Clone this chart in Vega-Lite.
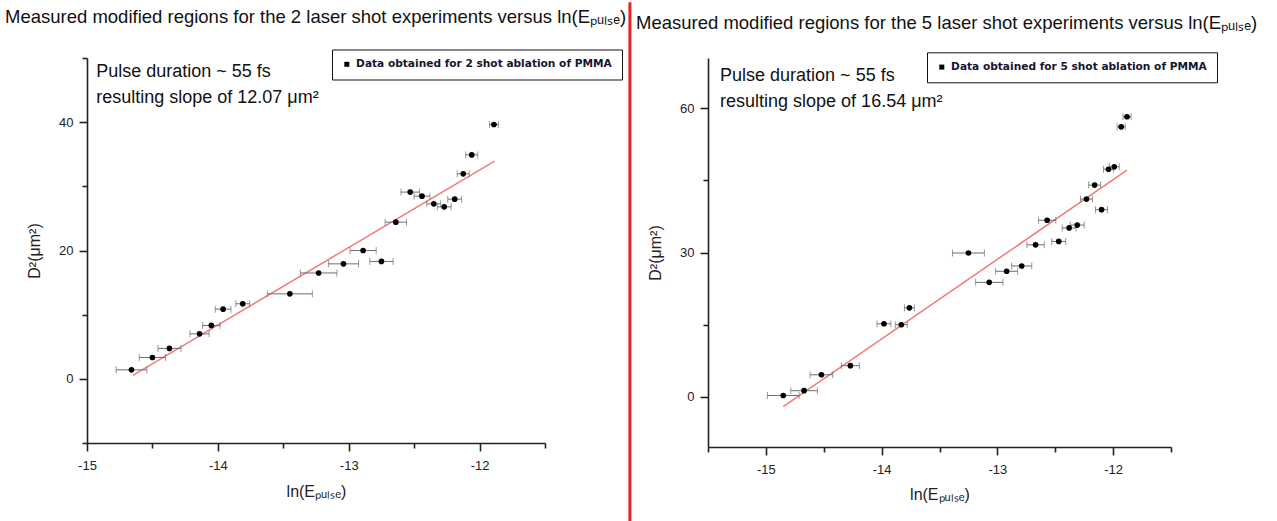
{
  "$schema": "https://vega.github.io/schema/vega-lite/v6.json",
  "background": "white",
  "padding": {"left": 5, "top": 0, "right": 0, "bottom": 0},
  "spacing": 4,
  "bounds": "full",
  "resolve": {"scale": {"color": "independent"}, "legend": {"color": "independent"}},
  "config": {
    "font": "Liberation Sans",
    "view": {"stroke": null},
    "title": {"font": "Liberation Sans", "fontSize": 18.5, "fontWeight": "normal", "color": "#111", "anchor": "start", "frame": "group", "lineHeight": 4},
    "axis": {
      "grid": false,
      "domainColor": "#222", "domainWidth": 1.6,
      "tickColor": "#222", "tickWidth": 1.6,
      "labelFont": "Liberation Sans", "labelFontSize": 13, "labelColor": "#222",
      "labelPadding": 8, "labelFlush": false, "labelOverlap": false,
      "titleFont": "Liberation Sans", "titleFontSize": 16, "titleFontWeight": "normal", "titleColor": "#222"
    },
    "legend": {
      "orient": "none", "title": null,
      "strokeColor": "#111", "fillColor": "white", "padding": 9.5,
      "symbolType": "square", "symbolSize": 25, "symbolStrokeWidth": 0,
      "labelFont": "DejaVu Sans", "labelFontWeight": "bold", "labelFontSize": 10.6,
      "labelColor": "#151530", "labelLimit": 400, "labelOffset": 4
    }
  },
  "datasets": {
    "shot2": [
      {"x": -11.89, "y": 39.64, "xerr": 0.034},
      {"x": -12.06, "y": 34.9, "xerr": 0.046},
      {"x": -12.125, "y": 31.95, "xerr": 0.046},
      {"x": -12.53, "y": 29.1, "xerr": 0.071},
      {"x": -12.44, "y": 28.47, "xerr": 0.061},
      {"x": -12.35, "y": 27.27, "xerr": 0.053},
      {"x": -12.27, "y": 26.8, "xerr": 0.053},
      {"x": -12.19, "y": 28.0, "xerr": 0.053},
      {"x": -12.64, "y": 24.42, "xerr": 0.082},
      {"x": -12.89, "y": 20.0, "xerr": 0.1},
      {"x": -12.75, "y": 18.3, "xerr": 0.089},
      {"x": -13.04, "y": 17.92, "xerr": 0.115},
      {"x": -13.23, "y": 16.5, "xerr": 0.14},
      {"x": -13.45, "y": 13.25, "xerr": 0.172},
      {"x": -13.81, "y": 11.69, "xerr": 0.053},
      {"x": -13.96, "y": 10.86, "xerr": 0.06},
      {"x": -14.05, "y": 8.32, "xerr": 0.067},
      {"x": -14.14, "y": 7.01, "xerr": 0.073},
      {"x": -14.37, "y": 4.74, "xerr": 0.088},
      {"x": -14.5, "y": 3.33, "xerr": 0.1},
      {"x": -14.66, "y": 1.4, "xerr": 0.117}
    ],
    "shot5": [
      {"x": -11.88, "y": 58.2, "xerr": 0.035},
      {"x": -11.93, "y": 56.1, "xerr": 0.035},
      {"x": -11.99, "y": 47.8, "xerr": 0.043},
      {"x": -12.04, "y": 47.3, "xerr": 0.043},
      {"x": -12.16, "y": 44.0, "xerr": 0.052},
      {"x": -12.23, "y": 41.1, "xerr": 0.052},
      {"x": -12.1, "y": 38.9, "xerr": 0.052},
      {"x": -12.57, "y": 36.7, "xerr": 0.075},
      {"x": -12.38, "y": 35.1, "xerr": 0.06},
      {"x": -12.31, "y": 35.7, "xerr": 0.06},
      {"x": -12.47, "y": 32.3, "xerr": 0.06},
      {"x": -12.67, "y": 31.6, "xerr": 0.075},
      {"x": -13.25, "y": 29.9, "xerr": 0.138},
      {"x": -12.79, "y": 27.2, "xerr": 0.087},
      {"x": -12.92, "y": 26.1, "xerr": 0.095},
      {"x": -13.07, "y": 23.8, "xerr": 0.118},
      {"x": -13.76, "y": 18.5, "xerr": 0.043},
      {"x": -13.98, "y": 15.2, "xerr": 0.06},
      {"x": -13.83, "y": 15.0, "xerr": 0.052},
      {"x": -14.27, "y": 6.5, "xerr": 0.078},
      {"x": -14.52, "y": 4.6, "xerr": 0.098},
      {"x": -14.67, "y": 1.3, "xerr": 0.115},
      {"x": -14.85, "y": 0.3, "xerr": 0.137}
    ],
    "fit2": [
      {"x": -14.65, "y": 0.55},
      {"x": -11.885, "y": 33.92}
    ],
    "fit5": [
      {"x": -14.85, "y": -2.0},
      {"x": -11.88, "y": 47.1}
    ],
    "divider": [
      {"part": "separator"}
    ]
  },
  "hconcat": [
    {
      "width": 458,
      "height": 385,
      "title": {"text": ["", "Measured modified regions for the 2 laser shot experiments versus ln(Eₚᵤₗₛₑ)"], "dx": -82, "offset": -25.2},
      "layer": [
        {
          "encoding": {
            "x": {
              "field": "x", "type": "quantitative",
              "scale": {"domain": [-15, -11.5], "nice": false, "zero": false},
              "axis": {
                "title": "ln(Eₚᵤₗₛₑ)",
                "values": [-15, -14.5, -14, -13.5, -13, -12.5, -12, -11.5],
                "labelExpr": "datum.value % 1 === 0 ? '' + datum.value : ''",
                "tickSize": {"condition": {"test": "datum.value % 1 === 0", "value": 8}, "value": 5},
                "titlePadding": 11
              }
            },
            "y": {
              "field": "y", "type": "quantitative",
              "scale": {"domain": [-10, 50], "nice": false, "zero": false},
              "axis": {
                "title": "D²(μm²)",
                "values": [-10, 0, 10, 20, 30, 40, 50],
                "labelExpr": "datum.value % 20 === 0 ? '' + datum.value : ''",
                "tickSize": {"condition": {"test": "datum.value % 20 === 0", "value": 8}, "value": 5},
                "labelPadding": 6,
                "titlePadding": 16
              }
            }
          },
          "layer": [
            {
              "data": {"name": "fit2"},
              "mark": {"type": "line", "color": "#f27a7a", "strokeWidth": 1.5}
            },
            {
              "data": {"name": "shot2"},
              "mark": {"type": "errorbar", "color": "#6e6e6e", "thickness": 1, "ticks": {"size": 7, "thickness": 1}},
              "encoding": {"xError": {"field": "xerr"}}
            },
            {
              "data": {"name": "shot2"},
              "mark": {"type": "point", "filled": true, "size": 32, "opacity": 1},
              "encoding": {
                "color": {
                  "datum": "Data obtained for 2 shot ablation of PMMA",
                  "scale": {"range": ["#000000"]},
                  "legend": {"legendX": 245, "legendY": -8.5}
                }
              }
            }
          ]
        },
        {
          "data": {"values": [{"note": "Pulse duration ~ 55 fs\nresulting slope of 12.07 μm²"}]},
          "mark": {"type": "text", "align": "left", "baseline": "alphabetic", "lineBreak": "\n", "lineHeight": 26, "fontSize": 18, "color": "#111", "font": "Liberation Sans"},
          "encoding": {
            "x": {"datum": -14.93, "type": "quantitative"},
            "y": {"datum": 47.1, "type": "quantitative"},
            "text": {"field": "note", "type": "nominal"}
          }
        },
        {
          "data": {"name": "divider"},
          "mark": {"type": "rule", "color": "#e3232b", "strokeWidth": 3},
          "encoding": {
            "x": {"datum": -10.851, "type": "quantitative"},
            "y": {"datum": 58.68, "type": "quantitative"},
            "y2": {"datum": -22.51}
          }
        }
      ]
    },
    {
      "width": 463,
      "height": 389,
      "title": {"text": ["", "Measured modified regions for the 5 laser shot experiments versus ln(Eₚᵤₗₛₑ)"], "dx": -72, "offset": 18.9},
      "layer": [
        {
          "encoding": {
            "x": {
              "field": "x", "type": "quantitative",
              "scale": {"domain": [-15.5, -11.5], "nice": false, "zero": false},
              "axis": {
                "title": "ln(Eₚᵤₗₛₑ)",
                "values": [-15.5, -15, -14.5, -14, -13.5, -13, -12.5, -12, -11.5],
                "labelExpr": "datum.value % 1 === 0 ? '' + datum.value : ''",
                "tickSize": {"condition": {"test": "datum.value % 1 === 0", "value": 8}, "value": 5},
                "titlePadding": 10
              }
            },
            "y": {
              "field": "y", "type": "quantitative",
              "scale": {"domain": [-10.4, 70.4], "nice": false, "zero": false},
              "axis": {
                "title": "D²(μm²)",
                "values": [0, 15, 30, 45, 60],
                "labelExpr": "datum.value % 30 === 0 ? '' + datum.value : ''",
                "tickSize": {"condition": {"test": "datum.value % 30 === 0", "value": 8}, "value": 5},
                "labelPadding": 6,
                "titlePadding": 16
              }
            }
          },
          "layer": [
            {
              "data": {"name": "fit5"},
              "mark": {"type": "line", "color": "#f27a7a", "strokeWidth": 1.5}
            },
            {
              "data": {"name": "shot5"},
              "mark": {"type": "errorbar", "color": "#6e6e6e", "thickness": 1, "ticks": {"size": 7, "thickness": 1}},
              "encoding": {"xError": {"field": "xerr"}}
            },
            {
              "data": {"name": "shot5"},
              "mark": {"type": "point", "filled": true, "size": 32, "opacity": 1},
              "encoding": {
                "color": {
                  "datum": "Data obtained for 5 shot ablation of PMMA",
                  "scale": {"range": ["#000000"]},
                  "legend": {"legendX": 219, "legendY": -5.7}
                }
              }
            }
          ]
        },
        {
          "data": {"values": [{"note": "Pulse duration ~ 55 fs\nresulting slope of 16.54 μm²"}]},
          "mark": {"type": "text", "align": "left", "baseline": "alphabetic", "lineBreak": "\n", "lineHeight": 26, "fontSize": 18, "color": "#111", "font": "Liberation Sans"},
          "encoding": {
            "x": {"datum": -15.396, "type": "quantitative"},
            "y": {"datum": 65.7, "type": "quantitative"},
            "text": {"field": "note", "type": "nominal"}
          }
        }
      ]
    }
  ]
}
